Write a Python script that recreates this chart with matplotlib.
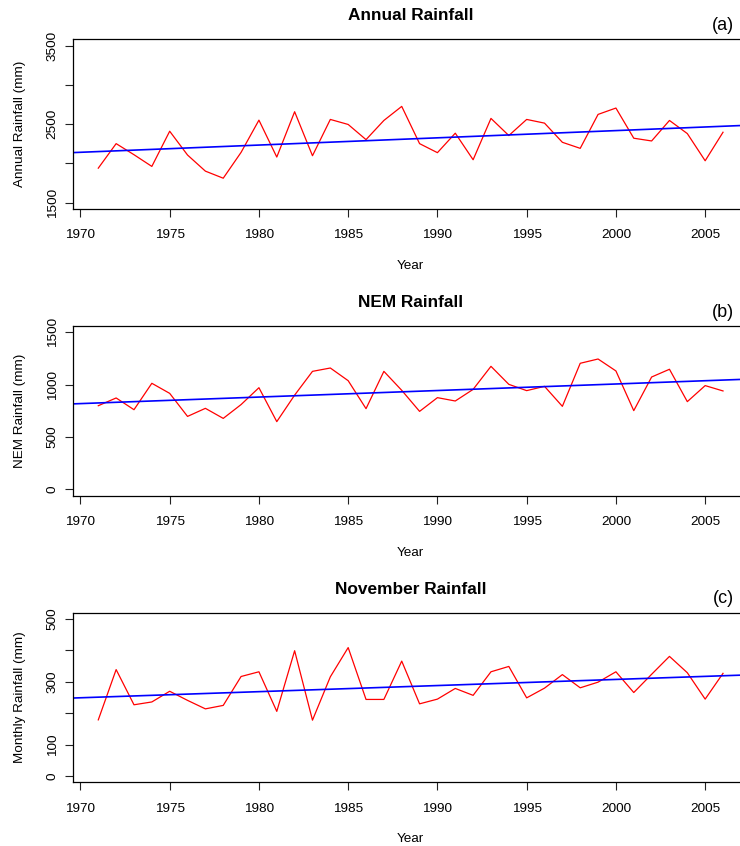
import numpy as np
import matplotlib
matplotlib.use('Agg')
import matplotlib.pyplot as plt

plt.rcParams['font.family'] = ['Liberation Sans', 'DejaVu Sans']

years = list(range(1971, 2007))

annual = [1940, 2252, 2111, 1962, 2410, 2107, 1902, 1812, 2141, 2551,
          2081, 2658, 2098, 2560, 2496, 2303, 2547, 2726, 2252, 2137,
          2385, 2047, 2573, 2355, 2560, 2513, 2269, 2192, 2624, 2705,
          2321, 2286, 2547, 2380, 2034, 2397]

nem = [799, 873, 761, 1013, 917, 697, 774, 678, 810, 971,
       647, 900, 1127, 1159, 1038, 771, 1127, 946, 745, 876,
       844, 955, 1175, 1003, 943, 984, 793, 1204, 1245, 1131,
       752, 1073, 1147, 838, 991, 940]

november = [179, 339, 227, 236, 270, 241, 214, 225, 317, 332,
            206, 399, 178, 316, 409, 244, 244, 366, 230, 245,
            279, 257, 332, 349, 249, 280, 323, 281, 299, 332,
            266, 324, 381, 329, 245, 327]

panels = [
    ('Annual Rainfall', '(a)', 'Annual Rainfall (mm)', annual,
     [1500, 2000, 2500, 3000, 3500], ['1500', '', '2500', '', '3500']),
    ('NEM Rainfall', '(b)', 'NEM Rainfall (mm)', nem,
     [0, 500, 1000, 1500], ['0', '500', '1000', '1500']),
    ('November Rainfall', '(c)', 'Monthly Rainfall (mm)', november,
     [0, 100, 200, 300, 400, 500], ['0', '100', '', '300', '', '500']),
]

W, H = 740, 846
fig = plt.figure(figsize=(W / 100, H / 100), dpi=100)

left_px, right_px = 73.3, 748
tops = [39.3, 326, 612.7]
box_h = 169.7
xlim = (1969.6, 2007.4)

for (title, tag, ylab, vals, yt, ytl), top in zip(panels, tops):
    ax = fig.add_axes([left_px / W, 1 - (top + box_h) / H,
                       (right_px - left_px) / W, box_h / H])
    ax.plot(years, vals, color='#ff0000', lw=0.9)
    # least-squares trend, drawn across the whole axis like abline()
    slope, icpt = np.polyfit(years, vals, 1)
    xs = np.array(xlim)
    ax.plot(xs, icpt + slope * xs, color='#0000ff', lw=1.2)

    ax.set_xlim(*xlim)
    pad = (yt[-1] - yt[0]) * 0.04
    ax.set_ylim(yt[0] - pad, yt[-1] + pad)
    ax.set_xticks(range(1970, 2010, 5))
    ax.set_yticks(yt)
    ax.set_yticklabels(ytl, rotation=90, va='center')
    ax.tick_params(axis='both', length=5.5, width=0.8, labelsize=9.7,
                   color='#222222')
    ax.tick_params(axis='x', pad=9)
    ax.tick_params(axis='y', pad=5)
    for s in ax.spines.values():
        s.set_linewidth(0.9)

    ax.set_xlabel('Year', fontsize=9.7)
    ax.xaxis.set_label_coords(0.5, -51 / box_h)
    ax.set_ylabel(ylab, fontsize=9.7)
    ax.yaxis.set_label_coords(-47 / (right_px - left_px), 0.5)

    ax.text(0.5, 1 + 19 / box_h, title, transform=ax.transAxes,
            ha='center', va='baseline', fontsize=12.4, fontweight='bold')
    ax.text((723 - left_px) / (right_px - left_px), 1 + 9.3 / box_h, tag,
            transform=ax.transAxes, ha='center', va='baseline', fontsize=13)

fig.savefig('out.png', dpi=100)
